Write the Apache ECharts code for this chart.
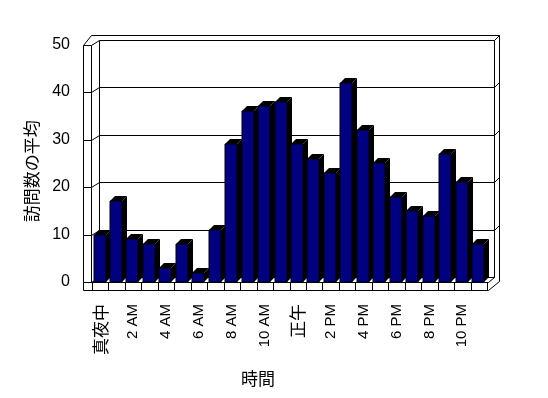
<!DOCTYPE html>
<html>
<head>
<meta charset="utf-8">
<script src="https://cdn.jsdelivr.net/npm/echarts@6/dist/echarts.min.js"></script>
<style>
  html, body { margin: 0; padding: 0; background: #fff; }
  #chart { width: 548px; height: 398px; }
</style>
</head>
<body>
<div id="chart"></div>
<script>
// 時間ごとの訪問数の平均
const hours = ['真夜中', '1 AM', '2 AM', '3 AM', '4 AM', '5 AM', '6 AM', '7 AM', '8 AM', '9 AM', '10 AM', '11 AM',
  '正午', '1 PM', '2 PM', '3 PM', '4 PM', '5 PM', '6 PM', '7 PM', '8 PM', '9 PM', '10 PM', '11 PM']
const visits = [10, 17, 9, 8, 3, 8, 2, 11, 29, 36, 37, 38, 29, 26, 23, 42, 32, 25, 18, 15, 14, 27, 21, 8]
const yTicks = [0, 10, 20, 30, 40, 50]

const FONT = "'Liberation Sans', 'Noto Sans CJK JP', sans-serif"
const CJK_FONT = "'Noto Sans CJK JP', sans-serif"
const DX = 7 // back wall offset
const DY = -5
const BAR_DEPTH = 5

const chart = echarts.init(document.getElementById('chart'), null, { renderer: 'canvas' })

function line(x1, y1, x2, y2) {
  return {
    type: 'line',
    shape: { x1: x1, y1: y1, x2: x2, y2: y2 },
    style: { stroke: '#000', lineWidth: 1 }
  }
}

// 3D風の枠・壁・床
function renderFrame(params, api) {
  const bw = api.size([1, 0])[0]
  const L = Math.round(api.coord([0, 0])[0] - bw / 2) + 0.5
  const R = Math.round(api.coord([hours.length - 1, 0])[0] + bw / 2) + 0.5
  const y0 = Math.round(api.coord([0, 0])[1]) + 0.5
  const yTop = Math.round(api.coord([0, yTicks[yTicks.length - 1]])[1]) + 0.5
  const items = []
  items.push({
    type: 'rect',
    shape: { x: L + DX, y: yTop + DY, width: R - L, height: y0 - yTop },
    style: { fill: '#fff' }
  })
  // left wall
  items.push(line(L - 9, yTop, L - 9, y0 + 8))
  items.push(line(L - 1, yTop, L - 1, y0))
  items.push(line(L + DX, yTop + DY, L + DX, y0 + DY))
  // top edge
  items.push(line(L - 9, yTop, L - 1, yTop + DY - 5))
  items.push(line(L - 1, yTop + DY - 5, R + DX + 5, yTop + DY - 5))
  // right wall
  items.push(line(R + DX, yTop + DY, R + DX, y0 + DY))
  items.push(line(R + DX + 5, yTop + DY - 5, R + DX + 5, y0 + DY + 4))
  // grid lines on the back wall
  yTicks.forEach(function (v) {
    const y = Math.round(api.coord([0, v])[1]) + 0.5
    items.push(line(L - 9, y, L - 1, y))
    items.push(line(L - 1, y, L + DX, y + DY))
    items.push(line(L + DX, y + DY, R + DX, y + DY))
    if (v !== 0) items.push(line(R + DX, y + DY, R + DX + 5, y + DY - 5))
  })
  // floor slab
  items.push(line(L - 9, y0, R + 1, y0))
  items.push(line(L - 9, y0 + 8, R + 1, y0 + 8))
  items.push(line(R + 1, y0, R + DX, y0 + DY))
  items.push(line(R + 1, y0 + 8, R + DX + 5, y0 + DY + 4))
  for (let i = 0; i <= hours.length; i++) {
    const x = Math.round(api.coord([0, 0])[0] - bw / 2 + i * bw) + 0.5
    items.push(line(x, y0, x, y0 + 8))
  }
  return { type: 'group', children: items }
}

// 立体棒
function renderBar(params, api) {
  const top = api.coord([api.value(0), api.value(1)])
  const base = api.coord([api.value(0), 0])
  const bw = api.size([1, 0])[0]
  const w = Math.round(bw * 0.73)
  const x0 = Math.round(top[0] - bw / 2 + 1.5)
  const x1 = x0 + w
  const yt = Math.round(top[1])
  const yb = Math.round(base[1])
  const d = BAR_DEPTH
  return {
    type: 'group',
    children: [
      {
        type: 'polygon',
        shape: { points: [[x1, yt], [x1 + d, yt - d], [x1 + d, yb - d], [x1, yb]] },
        style: { fill: '#000' }
      },
      {
        type: 'polygon',
        shape: { points: [[x0, yt], [x0 + d, yt - d], [x1 + d, yt - d], [x1, yt]] },
        style: { fill: '#000' }
      },
      {
        type: 'rect',
        shape: { x: x0, y: yt, width: w, height: yb - yt },
        style: { fill: '#000080', stroke: '#000', lineWidth: 1 }
      }
    ]
  }
}

chart.setOption({
  animation: false,
  backgroundColor: '#fff',
  grid: {
    left: 92,
    right: 61,
    top: 44.5,
    bottom: 116
  },
  xAxis: {
    type: 'category',
    data: hours,
    name: '時間',
    nameLocation: 'middle',
    nameGap: 88,
    nameTextStyle: { fontFamily: CJK_FONT, fontSize: 17, color: '#000', padding: [0, 63, 0, 0] },
    axisLine: { show: false },
    axisTick: { show: false },
    axisLabel: {
      interval: 1,
      rotate: 90,
      margin: 22,
      fontFamily: FONT,
      fontSize: 15,
      color: '#000',
      formatter: function (v) {
        return /[A-Z]/.test(v) ? v : '{cjk|' + v + '}'
      },
      rich: {
        cjk: { fontFamily: CJK_FONT, fontSize: 17, color: '#000' }
      }
    },
    splitLine: { show: false }
  },
  yAxis: {
    type: 'value',
    min: 0,
    max: 50,
    interval: 10,
    name: '訪問数の平均',
    nameLocation: 'middle',
    nameGap: 52,
    nameRotate: 90,
    nameTextStyle: { fontFamily: CJK_FONT, fontSize: 17, color: '#000', padding: [0, 16, 0, 0] },
    axisLine: { show: false },
    axisTick: { show: false },
    axisLabel: {
      margin: 22,
      fontFamily: FONT,
      fontSize: 16,
      color: '#000'
    },
    splitLine: { show: false }
  },
  series: [
    {
      type: 'custom',
      name: 'frame',
      renderItem: renderFrame,
      data: [[0, 0]],
      z: 1,
      silent: true
    },
    {
      type: 'custom',
      name: '訪問数の平均',
      renderItem: renderBar,
      encode: { x: 0, y: 1 },
      data: visits.map(function (v, i) { return [i, v] }),
      z: 2
    }
  ]
})
</script>
</body>
</html>
